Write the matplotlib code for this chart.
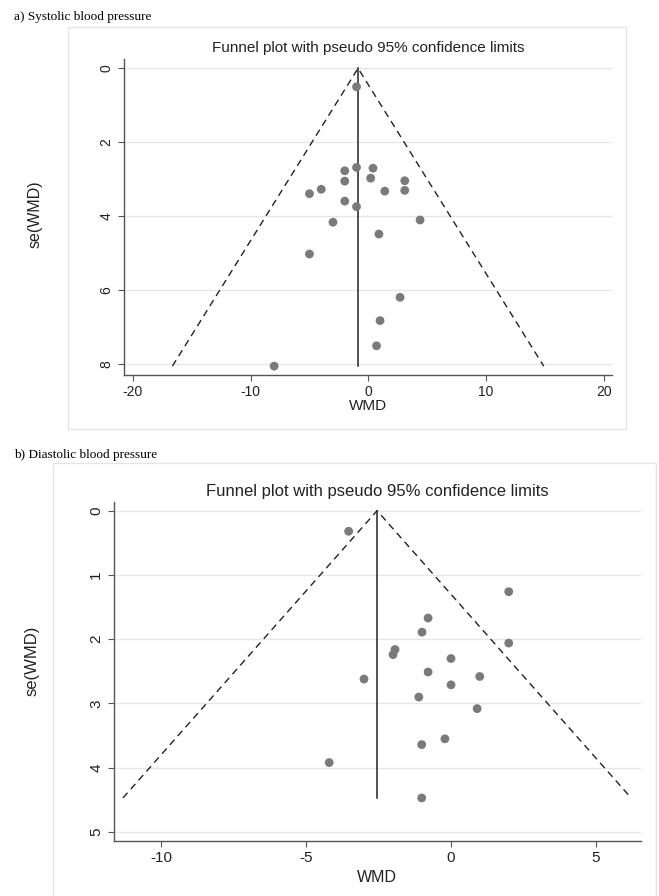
import numpy as np
import matplotlib
matplotlib.use("Agg")
import matplotlib.pyplot as plt
from matplotlib.patches import Rectangle

# a) systolic blood pressure
sbp_wmd = [-1.0, -1.0, 0.4, -2.0, -2.0, 0.2, 3.1, -5.0, -4.0, 1.4, 3.1,
           -2.0, -1.0, -3.0, 4.4, 0.9, -5.0, 2.7, 1.0, 0.7, -8.0]
sbp_se = [0.5, 2.68, 2.70, 2.77, 3.05, 2.97, 3.04, 3.39, 3.27, 3.32, 3.30,
          3.59, 3.74, 4.16, 4.10, 4.48, 5.02, 6.19, 6.82, 7.50, 8.05]
sbp_pooled = -0.87
sbp_xticks = [-20, -10, 0, 10, 20]
sbp_yticks = [0, 2, 4, 6, 8]

# b) diastolic blood pressure
dbp_wmd = [-3.53, 1.99, -0.79, -1.0, -1.93, -2.0, 1.99, 0.0, -0.79, 0.99,
           -3.0, 0.0, -1.11, 0.90, -0.21, -1.01, -4.20, -1.01]
dbp_se = [0.32, 1.26, 1.67, 1.89, 2.16, 2.24, 2.06, 2.30, 2.51, 2.58,
          2.62, 2.71, 2.90, 3.08, 3.55, 3.64, 3.92, 4.47]
dbp_pooled = -2.55
dbp_xticks = [-10, -5, 0, 5]
dbp_yticks = [0, 1, 2, 3, 4, 5]

title = "Funnel plot with pseudo 95% confidence limits"

W, H = 659, 896
fig = plt.figure(figsize=(W / 100, H / 100), dpi=100)
plt.rcParams['font.family'] = ['Liberation Sans', 'DejaVu Sans']
plt.rcParams['axes.unicode_minus'] = False


def px_axes(l, t, r, b):
    return [l / W, 1 - b / H, (r - l) / W, (b - t) / H]


def panel_box(l, t, r, b):
    fig.patches.append(Rectangle((l / W, 1 - b / H), (r - l) / W, (b - t) / H,
                                 transform=fig.transFigure, fill=False,
                                 edgecolor='#e4e4e4', lw=1.0))


def funnel(ax, wmd, se, pooled, xticks, yticks, xlim, ylim, fs, tfs, lfs,
           pad, ylab_xy, xlab_y):
    se_max = max(se)
    ax.plot([pooled - 1.96 * se_max, pooled, pooled + 1.96 * se_max],
            [se_max, 0, se_max], color='#222222', lw=1.0,
            linestyle=(0, (5, 3.5)), zorder=2)
    ax.plot([pooled, pooled], [0, se_max], color='#222222', lw=1.1, zorder=2)
    ax.scatter(wmd, se, s=40, color='#7a7a7a', edgecolors='none', zorder=3)
    ax.set_xlim(xlim)
    ax.set_ylim(ylim)
    ax.set_xticks(xticks)
    ax.set_yticks(yticks)
    ax.yaxis.grid(True, color='#e6e6e6', lw=1.0)
    ax.set_axisbelow(True)
    for s in ['top', 'right']:
        ax.spines[s].set_visible(False)
    for s in ['left', 'bottom']:
        ax.spines[s].set_color('#555555')
        ax.spines[s].set_linewidth(1.0)
    ax.tick_params(axis='both', length=4, color='#555555', labelsize=fs,
                   labelcolor='#222222')
    plt.setp(ax.get_yticklabels(), rotation=90, va='center')
    ax.set_title(title, fontsize=tfs, color='#222222', pad=pad)
    ax.set_xlabel('WMD', fontsize=lfs, color='#222222')
    ax.xaxis.set_label_coords(0.5, xlab_y)
    ax.set_ylabel('se(WMD)', fontsize=lfs + 0.5, color='#222222')
    ax.yaxis.set_label_coords(*ylab_xy)


# panel a
panel_box(68, 27, 626, 429)
fig.text(14 / W, 1 - 17 / H, 'a) Systolic blood pressure', fontsize=9.5,
         family=['Liberation Serif'], va='center', ha='left')
ax1 = fig.add_axes(px_axes(124, 59.3, 612, 375))
funnel(ax1, sbp_wmd, sbp_se, sbp_pooled, sbp_xticks, sbp_yticks,
       (-20.76, 20.71), (8.29, -0.243), 10, 11, 11, 5,
       (-0.166, 0.51), -0.075)

# panel b
panel_box(53, 463, 656, 905)
fig.text(14 / W, 1 - 455 / H, 'b) Diastolic blood pressure', fontsize=9.5,
         family=['Liberation Serif'], va='center', ha='left')
ax2 = fig.add_axes(px_axes(113.7, 501.7, 640.7, 841))
funnel(ax2, dbp_wmd, dbp_se, dbp_pooled, dbp_xticks, dbp_yticks,
       (-11.63, 6.54), (5.14, -0.14), 11, 12, 11.5, 4,
       (-0.14, 0.53), -0.085)

fig.savefig('out.png', dpi=100)
